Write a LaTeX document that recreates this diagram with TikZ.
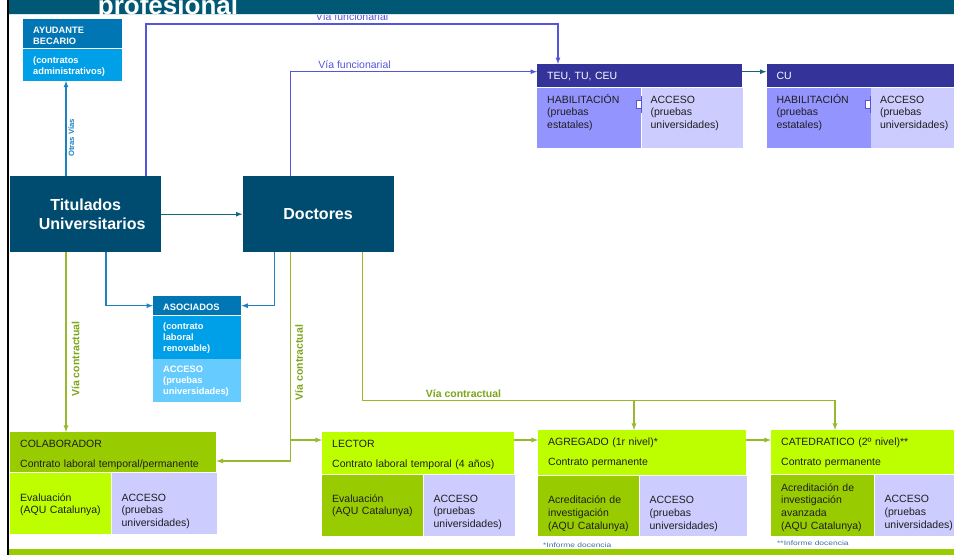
\documentclass[tikz,border=0pt]{standalone}
\usepackage{fontspec}
\setmainfont{Liberation Sans}
\usepackage{tikz}
\definecolor{TopBar}{RGB}{0,88,117}
\definecolor{BarEdge}{RGB}{215,230,240}
\definecolor{HubTeal}{RGB}{0,76,112}
\definecolor{TealArrow}{RGB}{20,100,125}
\definecolor{MidBlue}{RGB}{0,118,180}
\definecolor{SkyBlue}{RGB}{0,160,232}
\definecolor{PaleBlue}{RGB}{102,204,255}
\definecolor{AsocLine}{RGB}{30,130,190}
\definecolor{Indigo}{RGB}{51,51,153}
\definecolor{Periwinkle}{RGB}{148,148,255}
\definecolor{Lavender}{RGB}{204,204,255}
\definecolor{FuncLine}{RGB}{85,85,220}
\definecolor{Lime}{RGB}{190,255,0}
\definecolor{Leaf}{RGB}{153,204,0}
\definecolor{ContLine}{RGB}{150,185,45}
\definecolor{ContText}{RGB}{125,165,25}
\definecolor{NoteBlue}{RGB}{60,110,160}
\definecolor{Ink}{RGB}{30,30,30}
\usetikzlibrary{shapes,arrows,positioning}
\tikzset{hub/.style={rectangle, fill=HubTeal, text=white, font=\bfseries\fontsize{16}{18.3}\selectfont, align=center, minimum width=151pt, minimum height=76pt, inner sep=0pt}}
\tikzset{bluebox/.style={rectangle, fill=MidBlue, text=white, font=\bfseries\fontsize{9.3}{11}\selectfont, align=left, inner xsep=10pt, inner ysep=0pt}}
\tikzset{funcbox/.style={rectangle, fill=Indigo, text=white, font=\fontsize{10.5}{12.3}\selectfont, align=left, inner xsep=10pt, inner ysep=0pt}}
\tikzset{lowbox/.style={rectangle, text=Ink, font=\fontsize{10.5}{12.8}\selectfont, align=left, inner xsep=10pt, inner ysep=0pt}}
\tikzset{titlebox/.style={rectangle, text=Ink, font=\fontsize{10.5}{20}\selectfont, align=left, inner xsep=10pt, inner ysep=0pt, text height=15pt}}
\tikzset{hinge/.style={rectangle, draw=FuncLine, fill=white, minimum width=5pt, minimum height=8pt, inner sep=0pt, line width=0.8pt}}
\tikzset{line/.style={draw, -latex}}
\tikzset{funcline/.style={line, draw=FuncLine, line width=1.2pt}}
\tikzset{asocline/.style={line, draw=AsocLine, line width=1.2pt}}
\tikzset{contline/.style={line, draw=ContLine, line width=1.3pt}}
\tikzset{vialabel/.style={text=FuncLine, font=\fontsize{10.5}{12}\selectfont, inner sep=3pt}}
\tikzset{contlabel/.style={text=ContText, font=\bfseries\fontsize{10.5}{12}\selectfont}}
\tikzset{note/.style={text=NoteBlue, font=\fontsize{6.5}{8}\selectfont, inner sep=0pt, anchor=west}}

\begin{document}
\begin{tikzpicture}[x=1pt, y=-1pt]
  \useasboundingbox (0,0) rectangle (954,555);

  \node[hub, anchor=north west] (titu) at (10,176) {Titulados\\\hspace*{13pt}Universitarios};
  \node[hub, right=81pt of titu] (doct) {Doctores};

  \node[bluebox, anchor=north west, text width=79pt, text height=14.3pt, text depth=14.7pt] (ayud) at (23,19) {AYUDANTE\\BECARIO};
  \node[bluebox, fill=SkyBlue, below right=0pt of ayud.south west, text width=79pt, text height=14.5pt, text depth=17.5pt] (ayudsub) {(contratos\\administrativos)};

  \node[bluebox, anchor=north west, text width=68pt, text height=14pt, text depth=5pt] (asoc) at (153,296) {ASOCIADOS};
  \node[bluebox, fill=SkyBlue, below right=0pt of asoc.south west, text width=68pt, text height=14.3pt, text depth=28.7pt] (asocmid) {(contrato\\laboral\\renovable)};
  \node[bluebox, fill=PaleBlue, below right=0pt of asocmid.south west, text width=68pt, text height=13.6pt, text depth=29.4pt] (asocacc) {ACCESO\\(pruebas\\universidades)};

  \node[funcbox, anchor=north west, text width=185pt, text height=15.7pt, text depth=7.3pt] (teu) at (537,64) {TEU, TU, CEU};
  \node[lowbox, fill=Periwinkle, below right=0pt of teu.south west, text width=84pt, text height=15.5pt, text depth=44.5pt] (teuhab) {HABILITACIÓN\\(pruebas\\estatales)};
  \node[lowbox, fill=Lavender, right=0pt of teuhab, inner xsep=9pt, text width=83pt, text height=15.5pt, text depth=44.5pt] (teuacc) {ACCESO\\(pruebas\\universidades)};
  \node[hinge, anchor=east] (teujoin) at ([yshift=-17pt]teuacc.north west) {};

  \node[funcbox, right=24pt of teu, text width=180pt, text height=15.7pt, text depth=7.3pt] (cu) {CU};
  \node[lowbox, fill=Periwinkle, below right=0pt of cu.south west, text width=84pt, text height=15.5pt, text depth=44.5pt] (cuhab) {HABILITACIÓN\\(pruebas\\estatales)};
  \node[lowbox, fill=Lavender, right=0pt of cuhab, inner xsep=9pt, text width=83pt, text height=15.5pt, text depth=44.5pt] (cuacc) {ACCESO\\(pruebas\\universidades)};
  \node[hinge, anchor=east] (cujoin) at ([yshift=-17pt]cuacc.north west) {};

  \node[titlebox, fill=Leaf, anchor=north west, text width=186pt, text depth=25pt] (colab) at (10,432) {COLABORADOR\\Contrato laboral temporal/permanente};
  \node[lowbox, fill=Lime, below right=0pt of colab.south west, text width=81pt, text height=28.4pt, text depth=32.6pt] (colabev) {Evaluación\\(AQU Catalunya)};
  \node[lowbox, fill=Lavender, right=0pt of colabev, text width=85pt, text height=28.4pt, text depth=32.6pt] (colabacc) {ACCESO\\(pruebas\\universidades)};

  \node[titlebox, fill=Lime, anchor=north west, text width=172pt, text depth=27pt] (lect) at (322,432) {LECTOR\\Contrato laboral temporal (4 años)};
  \node[lowbox, fill=Leaf, below right=0pt of lect.south west, text width=81pt, text height=27.5pt, text depth=33.5pt] (lectev) {Evaluación\\(AQU Catalunya)};
  \node[lowbox, fill=Lavender, right=0pt of lectev, text width=71pt, text height=27.5pt, text depth=33.5pt] (lectacc) {ACCESO\\(pruebas\\universidades)};

  \node[titlebox, fill=Lime, anchor=north west, text width=188pt, text depth=30pt] (agreg) at (538,430) {AGREGADO (1r nivel)*\\Contrato permanente};
  \node[lowbox, fill=Leaf, below right=0pt of agreg.south west, text width=81pt, text height=28pt, text depth=32pt] (agregev) {Acreditación de\\investigación\\(AQU Catalunya)};
  \node[lowbox, fill=Lavender, right=0pt of agregev, text width=87pt, text height=28pt, text depth=32pt] (agregacc) {ACCESO\\(pruebas\\universidades)};

  \node[titlebox, fill=Lime, anchor=north west, text width=170pt, text depth=29pt] (cated) at (771,430) {CATEDRATICO (2º nivel)**\\Contrato permanente};
  \node[lowbox, fill=Leaf, below right=0pt of cated.south west, text width=83pt, text height=16.4pt, text depth=44.6pt] (catedev) {Acreditación de\\investigación\\avanzada\\(AQU Catalunya)};
  \node[lowbox, fill=Lavender, right=0pt of catedev, text width=70pt, text height=28pt, text depth=33pt] (catedacc) {ACCESO\\(pruebas\\universidades)};

  \node[note] (nota1) at ([xshift=5pt,yshift=-9pt]agregev.south west) {\scalebox{1.3}[1]{*Informe docencia}};
  \node[note] (nota2) at ([xshift=6pt,yshift=-7pt]catedev.south west) {\scalebox{1.3}[1]{**Informe docencia}};

  \path[line, draw=TealArrow, line width=1.2pt] (titu) -- (doct);
  \path[line, draw=TealArrow, line width=1.2pt] ([yshift=4pt]teu.east) -- ([yshift=4pt]cu.west);

  \coordinate (ov) at ([xshift=56pt]titu.north west);
  \path[asocline] (ov) -- (ov |- ayudsub.south) node[pos=0.4, rotate=90, anchor=north, inner sep=2pt, text=AsocLine, font=\bfseries\fontsize{7.7}{9}\selectfont] (otras) {Otras Vías};

  \coordinate (f1) at ([xshift=136pt]titu.north west);
  \coordinate (f1k) at ([yshift=152pt]f1);
  \coordinate (f1t) at ([xshift=21pt]teu.north west);
  \path[funcline] (f1) -- (f1k) -| node[pos=0.25, above, vialabel] (vf1) {Vía funcionarial} (f1t);
  \coordinate (f2) at ([xshift=48pt]doct.north west);
  \coordinate (f2t) at ([yshift=4pt]teu.west);
  \path[funcline] (f2) |- node[pos=0.63, above, vialabel] (vf2) {Vía funcionarial} (f2t);
  \draw[FuncLine, line width=0.8pt] ([yshift=4pt]teujoin.north east) -- ([yshift=-4pt]teujoin.south east);
  \draw[FuncLine, line width=0.8pt] ([yshift=4pt]cujoin.north east) -- ([yshift=-4pt]cujoin.south east);

  \coordinate (a1) at ([xshift=96pt]titu.south west);
  \path[asocline] (a1) |- (asoc.west);
  \coordinate (a2) at ([xshift=32pt]doct.south west);
  \path[asocline] (a2) |- (asoc.east);

  \coordinate (c1) at ([xshift=56pt]titu.south west);
  \path[contline] (c1) -- (c1 |- colab.north) node[pos=0.594, rotate=90, anchor=north, contlabel, inner sep=5pt] (vc1) {Vía contractual};
  \coordinate (c2) at ([xshift=48pt]doct.south west);
  \coordinate (c2l) at ([yshift=-29pt]colab.north east);
  \coordinate (c2r) at ([yshift=-8pt]lect.north west);
  \path[contline] (c2) |- node[pos=0.264, rotate=90, anchor=north, contlabel, inner sep=4pt] (vc2) {Vía contractual} (c2l);
  \path[contline] (c2 |- c2r) -- (c2r);
  \coordinate (c3) at ([xshift=120pt]doct.south west);
  \coordinate (c3k) at ([yshift=-148pt]c3);
  \coordinate (c3a) at ([xshift=96pt]agreg.north west);
  \coordinate (c3b) at ([xshift=64pt]cated.north west);
  \path[contline] (c3) -- (c3k) -| node[pos=0.107, above, contlabel, inner sep=2.5pt] (vc3) {Vía contractual} (c3b);
  \path[contline] (c3a |- c3k) -- (c3a);
  \path[contline] ([yshift=-8pt]lect.north east) -- ([yshift=-10pt]agreg.north west);
  \path[contline] ([yshift=-10pt]agreg.north east) -- ([yshift=-10pt]cated.north west);

  \fill[black] (6.7,0) rectangle (9.3,555);
  \fill[Leaf] (9.3,549.3) rectangle (954,555);
  \fill[TopBar] (9.3,0) rectangle (954,14);
  \draw[BarEdge, line width=1pt] (9.3,14.5) -- (954,14.5);
  \begin{scope}
    \clip (9.3,0) rectangle (954,14);
    \node[anchor=base, text=white, font=\bfseries\fontsize{26}{28}\selectfont, inner sep=0pt] (ttl) at (168,14.5) {profesional};
  \end{scope}
\end{tikzpicture}
\end{document}
